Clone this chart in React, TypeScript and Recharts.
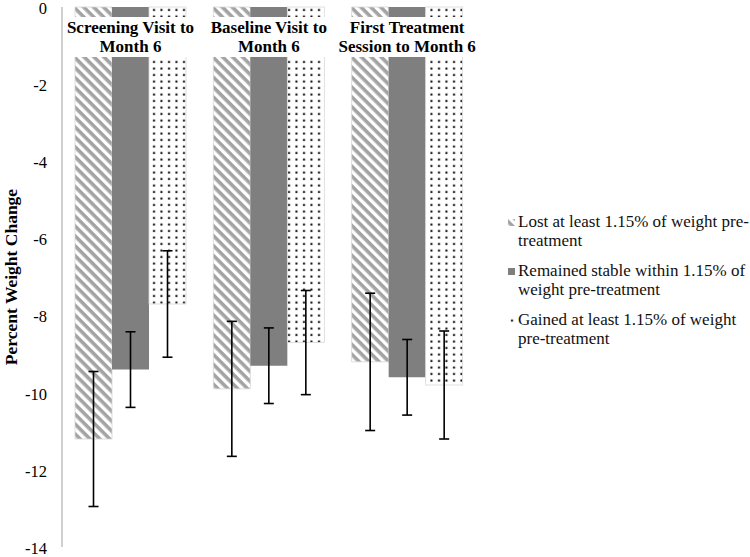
import React from 'react';
import { BarChart, Bar, XAxis, YAxis, ErrorBar, Label } from 'recharts';

const categories = ['Screening Visit to Month 6', 'Baseline Visit to Month 6', 'First Treatment Session to Month 6'];
const categoryLines = [
  ['Screening Visit to', 'Month 6'],
  ['Baseline Visit to', 'Month 6'],
  ['First Treatment', 'Session to Month 6'],
];
const seriesNames = [
  'Lost at least 1.15% of weight pre-treatment',
  'Remained stable within 1.15% of weight pre-treatment',
  'Gained at least 1.15% of weight pre-treatment',
];
const legendLines = [
  ['Lost at least 1.15% of weight pre-', 'treatment'],
  ['Remained stable within 1.15% of', 'weight pre-treatment'],
  ['Gained at least 1.15% of weight', 'pre-treatment'],
];
const lostValues = [-11.2, -9.9, -9.2];
const lostErrors = [1.75, 1.75, 1.78];
const stableValues = [-9.4, -9.3, -9.6];
const stableErrors = [0.98, 0.98, 0.98];
const gainedValues = [-7.7, -8.7, -9.8];
const gainedErrors = [1.38, 1.35, 1.4];
const yTicks = [0, -2, -4, -6, -8, -10, -12, -14];
const yAxisTitle = 'Percent Weight Change';

const data = categories.map((c, i) => ({
  category: c,
  lost: lostValues[i],
  lostErr: lostErrors[i],
  stable: stableValues[i],
  stableErr: stableErrors[i],
  gained: gainedValues[i],
  gainedErr: gainedErrors[i],
}));

const FONT = "'Liberation Serif', 'Times New Roman', serif";
const PLOT_TOP = 7;
const fills = ['url(#stripesPat)', '#7f7f7f', 'url(#dotsPat)'];

const GainedShape = (props: any) => {
  const { x, y, width, height, index } = props;
  const top = Math.min(y, y + height);
  const h = Math.abs(height);
  const gx = x - 2 * width;
  const gw = 3 * width;
  const cx = x - width / 2;
  const lines = categoryLines[index] || ['', ''];
  return (
    <g>
      <rect x={x} y={top} width={width} height={h} fill="url(#dotsPat)" stroke="#d8d8d8" strokeWidth={0.8} />
      <rect x={gx - 2} y={PLOT_TOP + 10} width={gw + 4} height={40} fill="#fff" />
      <text x={cx} y={PLOT_TOP + 26} textAnchor="middle" fontFamily={FONT} fontWeight="bold" fontSize={17} fill="#000">
        {lines[0]}
      </text>
      <text x={cx} y={PLOT_TOP + 45} textAnchor="middle" fontFamily={FONT} fontWeight="bold" fontSize={17} fill="#000">
        {lines[1]}
      </text>
    </g>
  );
};

const YTitle = (props: any) => {
  const vb = props.viewBox || { x: 0, y: 7, width: 62, height: 540 };
  const cy = vb.y + vb.height / 2;
  const tx = 17;
  return (
    <text
      x={tx}
      y={cy}
      transform={`rotate(-90, ${tx}, ${cy})`}
      textAnchor="middle"
      fontFamily={FONT}
      fontWeight="bold"
      fontSize={17.5}
      fill="#000"
    >
      {yAxisTitle}
    </text>
  );
};

const Swatch = ({ i }: { i: number }) => (
  <svg width={7} height={7} style={{ display: 'block' }}>
    <rect x={0} y={0} width={7} height={7} fill={fills[i]} />
  </svg>
);

export default function App() {
  return (
    <div style={{ position: 'absolute', left: 0, top: 0, width: 750, height: 557, background: '#fff' }}>
      <svg width={0} height={0} style={{ position: 'absolute' }}>
        <defs>
          <pattern id="stripesPat" width={7} height={7} patternUnits="userSpaceOnUse" patternTransform="rotate(45)">
            <rect width={7} height={7} fill="#fff" />
            <rect width={7} height={3.6} fill="#a3a3a3" />
          </pattern>
          <pattern id="dotsPat" width={7.5} height={6.5} patternUnits="userSpaceOnUse">
            <rect width={7.5} height={6.5} fill="#fff" />
            <rect x={3} y={2.5} width={2} height={2} fill="#000" />
          </pattern>
        </defs>
      </svg>
      <BarChart
        width={750}
        height={557}
        data={data}
        margin={{ top: PLOT_TOP, right: 273, bottom: 10, left: 0 }}
        barGap={0}
        barCategoryGap={13}
      >
        <XAxis
          dataKey="category"
          orientation="top"
          height={0}
          tick={false}
          tickLine={false}
          axisLine={{ stroke: '#a0a0a0', strokeWidth: 1 }}
        />
        <YAxis
          domain={[-14, 0]}
          ticks={yTicks}
          interval={0}
          width={62}
          tickSize={0}
          tickMargin={15}
          tickLine={false}
          axisLine={{ stroke: '#a0a0a0', strokeWidth: 1 }}
          tick={{ fill: '#000', fontSize: 16.5, fontFamily: FONT, dy: 1 }}
        >
          <Label content={<YTitle />} />
        </YAxis>
        <Bar dataKey="lost" name={seriesNames[0]} fill={fills[0]} stroke="#d6d6d6" strokeWidth={0.8} isAnimationActive={false}>
          <ErrorBar dataKey="lostErr" width={5} stroke="#000" strokeWidth={1.6} direction="y" />
        </Bar>
        <Bar dataKey="stable" name={seriesNames[1]} fill={fills[1]} isAnimationActive={false}>
          <ErrorBar dataKey="stableErr" width={5} stroke="#000" strokeWidth={1.6} direction="y" />
        </Bar>
        <Bar dataKey="gained" name={seriesNames[2]} fill={fills[2]} shape={<GainedShape />} isAnimationActive={false}>
          <ErrorBar dataKey="gainedErr" width={5} stroke="#000" strokeWidth={1.6} direction="y" />
        </Bar>
      </BarChart>
      <div style={{ position: 'absolute', left: 508, top: 213, width: 240, fontFamily: FONT, fontSize: 17, color: '#111' }}>
        {legendLines.map((lines, i) => (
          <div key={i} style={{ position: 'relative', height: 49 }}>
            <div style={{ position: 'absolute', left: 0, top: 6 }}>
              <Swatch i={i} />
            </div>
            <div style={{ position: 'absolute', left: 10, top: 0, lineHeight: '18.5px', whiteSpace: 'nowrap' }}>
              <div>{lines[0]}</div>
              <div>{lines[1]}</div>
            </div>
          </div>
        ))}
      </div>
    </div>
  );
}
